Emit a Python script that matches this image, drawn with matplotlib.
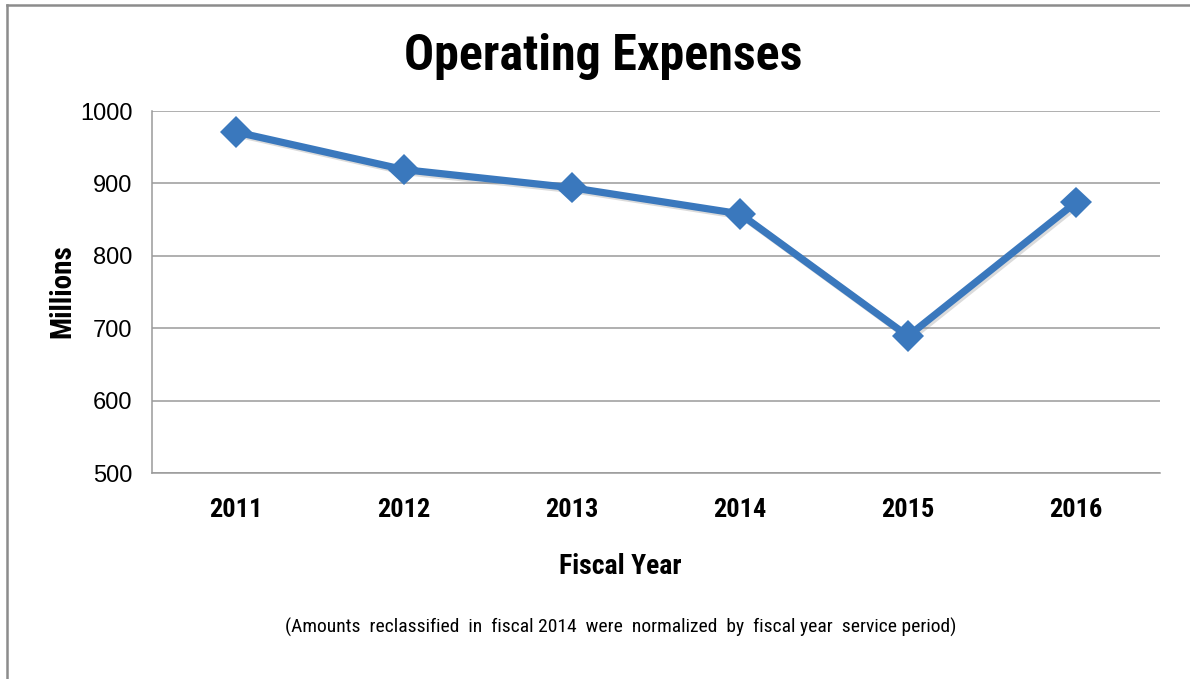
import matplotlib
matplotlib.use("Agg")
import matplotlib.pyplot as plt
from matplotlib.lines import Line2D
import matplotlib.patheffects as pe

years = ["2011", "2012", "2013", "2014", "2015", "2016"]
expenses = [971, 919, 894, 858, 689, 874]
yticks = [500, 600, 700, 800, 900, 1000]

title = "Operating Expenses"
xlabel = "Fiscal Year"
ylabel = "Millions"
note = "(Amounts  reclassified  in  fiscal 2014  were  normalized  by  fiscal year  service period)"

W, H = 1190, 679
fig = plt.figure(figsize=(W / 100, H / 100), dpi=100)
fig.patch.set_facecolor("white")

narrow = ["Roboto Condensed", "PT Sans Narrow", "Liberation Sans", "DejaVu Sans"]
reg = ["Liberation Sans", "DejaVu Sans"]

left, right, top, bottom = 152, 1160, 111, 473
ax = fig.add_axes([left / W, 1 - bottom / H, (right - left) / W, (bottom - top) / H])

x = list(range(len(years)))
line_color = "#3A78BD"
ax.plot(x, expenses, color=line_color, linewidth=5.2, solid_capstyle="round",
        marker="D", markersize=16, markeredgewidth=0, markerfacecolor=line_color,
        zorder=3,
        path_effects=[pe.SimpleLineShadow(offset=(1.5, -1.5), shadow_color="#888888", alpha=0.3), pe.Normal()])

ax.set_xlim(-0.5, len(years) - 0.5)
ax.set_ylim(500, 1000)
ax.set_yticks(yticks)
ax.set_xticks(x)
ax.set_xticklabels(years, fontfamily=narrow, fontweight="bold", fontsize=19)
ax.set_yticklabels([str(v) for v in yticks], fontfamily=reg, fontsize=17)
ax.tick_params(axis="both", length=0)
ax.tick_params(axis="y", pad=14)
ax.tick_params(axis="x", pad=18)

ax.grid(axis="y", color="#9a9a9a", linewidth=1.1)
ax.set_axisbelow(True)
for s in ["top", "right"]:
    ax.spines[s].set_visible(False)
for s in ["left", "bottom"]:
    ax.spines[s].set_color("#9a9a9a")
    ax.spines[s].set_linewidth(1.1)

fig.text(603 / W, 1 - 56 / H, title, ha="center", va="center",
         fontfamily=narrow, fontweight="bold", fontsize=36)
fig.text(620 / W, 1 - 567 / H, xlabel, ha="center", va="center",
         fontfamily=narrow, fontweight="bold", fontsize=20)
fig.text(62 / W, 1 - 291 / H, ylabel, ha="center", va="center", rotation=90,
         fontfamily=narrow, fontweight="bold", fontsize=21)
fig.text(621 / W, 1 - 627 / H, note, ha="center", va="center",
         fontfamily=narrow, fontsize=14)

# outer frame (top and left edges visible)
fig.add_artist(Line2D([7 / W, 1.0], [1 - 5 / H, 1 - 5 / H], transform=fig.transFigure,
                      color="#8c8c8c", linewidth=1.8))
fig.add_artist(Line2D([7 / W, 7 / W], [0, 1 - 5 / H], transform=fig.transFigure,
                      color="#8c8c8c", linewidth=1.8))

fig.savefig("out.png", dpi=100, facecolor="white")
